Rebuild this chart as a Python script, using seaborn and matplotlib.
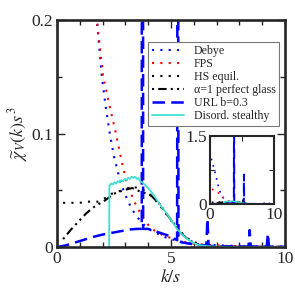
import matplotlib
matplotlib.use("Agg")
import matplotlib.pyplot as plt
import seaborn as sns
import pandas as pd
from matplotlib.ticker import MultipleLocator, FixedLocator

# ---------------- data ----------------
k_debye = [0.2, 0.5, 0.9, 1.25, 1.5, 1.75, 1.97, 2.15, 2.32, 2.5, 2.7, 2.9, 3.1, 3.3, 3.5,
           3.7, 3.9, 4.1, 4.4, 4.7, 5.0, 5.3, 5.6, 5.9, 6.2, 6.6, 7.0, 7.5, 8.0, 8.5, 9.0,
           9.5, 10.0]
chi_debye = [1.0, 0.85, 0.63, 0.42, 0.3, 0.2, 0.15, 0.122, 0.1, 0.08, 0.064, 0.051, 0.041,
             0.033, 0.027, 0.022, 0.018, 0.015, 0.012, 0.009, 0.007, 0.0055, 0.004, 0.003,
             0.0025, 0.002, 0.0015, 0.0012, 0.001, 0.0008, 0.0006, 0.0005, 0.0004]

k_fps = [0.3, 0.9, 1.5, 1.75, 2.03, 2.3, 2.59, 2.76, 2.9, 3.07, 3.25, 3.42, 3.6, 3.8, 4.1,
         4.4, 4.7, 5.0, 5.3, 5.6, 6.0, 6.5, 7.0, 7.5, 8.0, 8.5, 9.0, 9.5, 10.0]
chi_fps = [0.33, 0.28, 0.23, 0.2, 0.15, 0.125, 0.1, 0.083, 0.07, 0.056, 0.047, 0.039, 0.032,
           0.025, 0.017, 0.013, 0.01, 0.008, 0.006, 0.0045, 0.003, 0.002, 0.0015, 0.001,
           0.0008, 0.0006, 0.0005, 0.0004, 0.0003]

k_hs = [0.27, 0.6, 1.0, 1.4, 1.8, 2.1, 2.4, 2.7, 3.0, 3.3, 3.6, 3.9, 4.2, 4.5, 4.8, 5.1,
        5.4, 5.7, 6.0, 6.4, 6.8, 7.3, 8.0, 9.0, 10.0]
chi_hs = [0.039, 0.039, 0.039, 0.040, 0.040, 0.043, 0.047, 0.049, 0.051, 0.053, 0.052,
          0.049, 0.044, 0.037, 0.029, 0.021, 0.014, 0.008, 0.0045, 0.0018, 0.0008, 0.0004,
          0.0003, 0.0003, 0.0002]

k_glass = [0.27, 0.6, 0.92, 1.3, 1.67, 2.1, 2.5, 2.9, 3.3, 3.64, 4.1, 4.5, 5.0, 5.5, 5.8,
           6.2, 6.6, 7.0]
chi_glass = [0.007, 0.015, 0.022, 0.030, 0.036, 0.041, 0.047, 0.050, 0.052, 0.049, 0.046,
             0.038, 0.024, 0.011, 0.006, 0.002, 0.0005, 0.0001]

k_url = [0.0, 0.4, 0.8, 1.2, 1.6, 2.0, 2.4, 2.8, 3.2, 3.5, 3.72, 3.75, 3.78, 4.0, 4.3, 4.6,
         4.9, 5.2, 5.27, 5.3, 5.33, 5.5, 5.8, 6.1, 6.4, 6.55, 6.6, 6.65, 7.0, 7.5, 8.0, 8.4,
         8.45, 8.5, 8.9, 9.2, 9.25, 9.3, 9.6, 10.0]
chi_url = [0.0, 0.0015, 0.004, 0.0065, 0.009, 0.011, 0.0125, 0.014, 0.0155, 0.016, 0.016,
           3.0, 0.016, 0.016, 0.014, 0.012, 0.01, 0.007, 0.006, 0.65, 0.005, 0.004, 0.003,
           0.002, 0.0015, 0.0012, 0.025, 0.001, 0.0008, 0.0006, 0.0005, 0.0004, 0.015,
           0.0004, 0.0003, 0.0003, 0.012, 0.0003, 0.0002, 0.0002]

k_st = [2.29, 2.30, 2.38, 2.45, 2.52, 2.6, 2.67, 2.75, 2.82, 2.9, 2.97, 3.05, 3.12, 3.2,
        3.27, 3.35, 3.42, 3.5, 3.57, 3.65, 3.75, 3.85, 4.0, 4.2, 4.4, 4.6, 4.8, 5.0, 5.3,
        5.6, 5.8, 6.0, 6.3, 6.6, 7.0, 8.0, 9.0, 10.0]
chi_st = [0.0, 0.054, 0.056, 0.055, 0.057, 0.056, 0.058, 0.057, 0.059, 0.058, 0.060, 0.059,
          0.061, 0.060, 0.062, 0.061, 0.062, 0.060, 0.061, 0.058, 0.057, 0.055, 0.052, 0.047,
          0.041, 0.035, 0.030, 0.024, 0.015, 0.009, 0.006, 0.0035, 0.0015, 0.0008, 0.0003,
          0.0001, 0.0, 0.0]

labels = ["Debye", "FPS", "HS equil.", "\u03b1=1 perfect glass", "URL b=0.3",
          "Disord. stealthy"]

main_xticks = [0, 5, 10]
main_xticklabels = ["0", "5", "10"]
main_yticks = [0, 0.1, 0.2]
main_yticklabels = ["0", "0.1", "0.2"]
inset_xticks = [0, 5, 10]
inset_xticklabels = ["0", "", "10"]
inset_yticks = [0, 0.75, 1.5]
inset_yticklabels = ["0", "", "1.5"]

# ---------------- style ----------------
sns.set_style("ticks")
plt.rcParams["font.family"] = ["Liberation Serif", "DejaVu Serif"]
plt.rcParams["mathtext.fontset"] = "stix"

series = [
    (k_debye, chi_debye, dict(color="#0000ff", lw=1.5, linestyle=(0, (1, 3)))),
    (k_fps, chi_fps, dict(color="#ff0000", lw=1.5, linestyle=(0, (1, 3)))),
    (k_hs, chi_hs, dict(color="black", lw=1.5, linestyle=(0, (1, 3)))),
    (k_glass, chi_glass, dict(color="black", lw=1.5, linestyle=(0, (1, 2, 4, 2, 1, 2)))),
    (k_url, chi_url, dict(color="#0000ff", lw=1.8, linestyle=(0, (5, 2.5)))),
    (k_st, chi_st, dict(color="#40e0d0", lw=1.3, linestyle="-")),
]

fig = plt.figure(figsize=(2.95, 3.05), dpi=100)
ax = fig.add_axes([0.193, 0.190, 0.773, 0.744])

for (kx, cy, st), lab in zip(series, labels):
    df = pd.DataFrame({"k": kx, "chi": cy})
    sns.lineplot(data=df, x="k", y="chi", ax=ax, estimator=None, sort=False,
                 label=lab, legend=False, **st)

ax.set_xlim(0, 10)
ax.set_ylim(0, 0.2)
ax.xaxis.set_major_locator(FixedLocator(main_xticks))
ax.set_xticklabels(main_xticklabels)
ax.yaxis.set_major_locator(FixedLocator(main_yticks))
ax.set_yticklabels(main_yticklabels)
ax.xaxis.set_minor_locator(MultipleLocator(1))
ax.yaxis.set_minor_locator(MultipleLocator(0.05))
ax.tick_params(which="both", direction="in", top=True, right=True, labelsize=12.5,
               width=1.0, pad=3)
ax.tick_params(which="major", length=5.5)
ax.tick_params(which="minor", length=3.5)
for sp in ax.spines.values():
    sp.set_linewidth(1.9)
ax.set_xlabel("$k/s$", fontsize=13, labelpad=1)
ax.set_ylabel(r"$\widetilde{\chi}_V(k)s^3$", fontsize=13, labelpad=1)

leg = ax.legend(loc="upper right", bbox_to_anchor=(0.975, 0.905), borderaxespad=0,
                fontsize=8.6, frameon=True, fancybox=False, framealpha=1,
                edgecolor="#777777", handlelength=2.7, handletextpad=0.8,
                labelspacing=0.08, borderpad=0.3)
leg.get_frame().set_linewidth(0.8)

# ---------------- inset ----------------
axin = fig.add_axes([0.712, 0.331, 0.217, 0.223])
for (kx, cy, st) in series:
    df = pd.DataFrame({"k": kx, "chi": cy})
    st2 = dict(st)
    st2["lw"] = st["lw"] * 0.8
    sns.lineplot(data=df, x="k", y="chi", ax=axin, estimator=None, sort=False,
                 legend=False, **st2)
axin.set_xlim(0, 10)
axin.set_ylim(0, 1.5)
axin.xaxis.set_major_locator(FixedLocator(inset_xticks))
axin.set_xticklabels(inset_xticklabels)
axin.yaxis.set_major_locator(FixedLocator(inset_yticks))
axin.set_yticklabels(inset_yticklabels)
axin.tick_params(which="both", direction="in", top=True, right=True, labelsize=12.5,
                 length=3.5, width=0.8, pad=2)
axin.set_xlabel("")
axin.set_ylabel("")
for sp in axin.spines.values():
    sp.set_linewidth(1.5)

fig.savefig("out.png", dpi=100)
